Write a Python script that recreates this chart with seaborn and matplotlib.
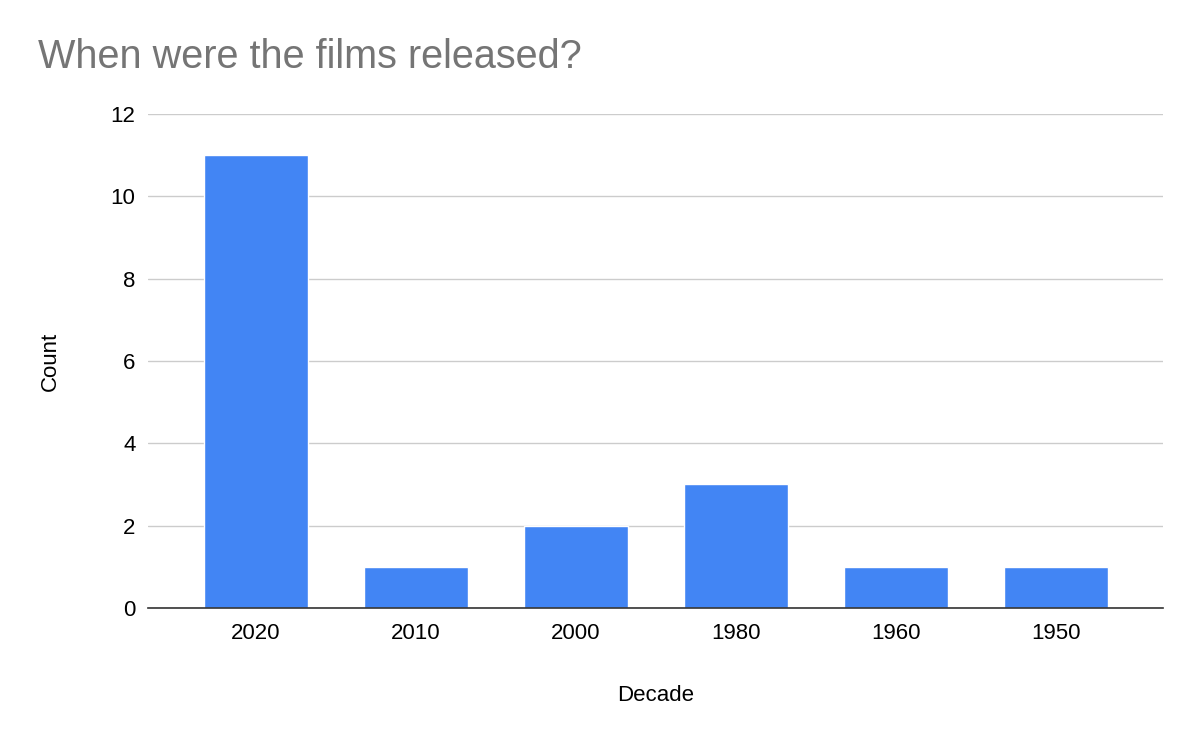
import matplotlib
matplotlib.use("Agg")
import matplotlib.pyplot as plt
import seaborn as sns
import pandas as pd

decades = ["2020", "2010", "2000", "1980", "1960", "1950"]
counts = [11, 1, 2, 3, 1, 1]

df = pd.DataFrame({"Decade": decades, "Count": counts})

sns.set_style("white")
plt.rcParams["font.family"] = ["Liberation Sans", "DejaVu Sans"]

fig = plt.figure(figsize=(12, 7.42), dpi=100)
ax = fig.add_axes([0.1233, 0.1806, 0.8459, 0.6658])

sns.barplot(data=df, x="Decade", y="Count", color="#4285F4", saturation=1,
            width=0.65, ax=ax, zorder=3)

ax.set_xlim(-0.675, 5.67)
ax.set_ylim(0, 12)
ax.set_yticks([0, 2, 4, 6, 8, 10, 12])
ax.yaxis.grid(True, color="#cccccc", linewidth=1, zorder=0)
ax.set_axisbelow(True)
for s in ["top", "right", "left"]:
    ax.spines[s].set_visible(False)
ax.spines["bottom"].set_color("#333333")
ax.spines["bottom"].set_linewidth(1.2)
ax.spines["bottom"].set_zorder(4)
ax.tick_params(axis="both", length=0, labelsize=16, colors="#000000")
ax.tick_params(axis="x", pad=11)
ax.tick_params(axis="y", pad=9)

ax.set_xlabel("Decade", fontsize=16, color="#000000", labelpad=29)
ax.set_ylabel("Count", fontsize=16, color="#000000", labelpad=36)

fig.text(0.032, 0.908, "When were the films released?", fontsize=28.5,
         color="#757575", va="baseline", ha="left")

fig.savefig("out.png", dpi=100)
